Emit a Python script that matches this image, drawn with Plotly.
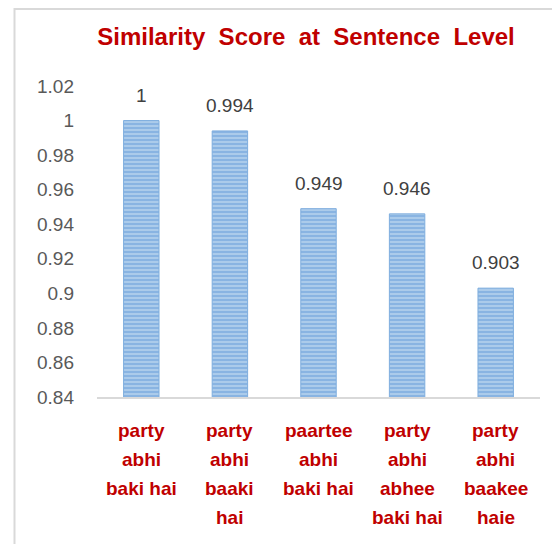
import plotly.graph_objects as go

categories = ["party abhi baki hai", "party abhi baaki hai", "paartee abhi baki hai",
              "party abhi abhee baki hai", "party abhi baakee haie"]
label_lines = [["party", "abhi", "baki hai"],
               ["party", "abhi", "baaki", "hai"],
               ["paartee", "abhi", "baki hai"],
               ["party", "abhi", "abhee", "baki hai"],
               ["party", "abhi", "baakee", "haie"]]
scores = [1, 0.994, 0.949, 0.946, 0.903]
tick_vals = [0.84, 0.86, 0.88, 0.9, 0.92, 0.94, 0.96, 0.98, 1.0, 1.02]
tick_text = ["0.84", "0.86", "0.88", "0.9", "0.92", "0.94", "0.96", "0.98", "1", "1.02"]

W, H = 560, 544
L, R, T, B = 89, 28, 78, 155
pw, ph = W - L - R, H - T - B

fig = go.Figure()
fig.add_trace(go.Bar(
    x=categories, y=scores, width=0.4,
    marker=dict(color="#C2D9F0", line=dict(color="#7FAEDE", width=1),
                pattern=dict(shape="-", fgcolor="#4F8FD3", size=4, solidity=0.7, fillmode="overlay")),
    hoverinfo="skip",
))

annotations = []
for c, v in zip(categories, scores):
    annotations.append(dict(x=c, y=v, xref="x", yref="y", text=f"{v:g}", showarrow=False,
                            yanchor="bottom", yshift=13,
                            font=dict(family="Liberation Sans, Arial", size=19, color="#404040")))
for c, lines in zip(categories, label_lines):
    for i, ln in enumerate(lines):
        annotations.append(dict(x=c, y=0, xref="x", yref="paper", text=ln, showarrow=False,
                                yanchor="middle", yshift=-33 - 29 * i,
                                font=dict(family="Liberation Sans, Arial", size=19, color="#C00000",
                                          weight="bold")))

def px_x(px):
    return (px - L) / pw

def px_y(py):
    return (H - B - py) / ph

fig.update_layout(
    width=W, height=H,
    margin=dict(l=L, r=R, t=T, b=B),
    paper_bgcolor="white", plot_bgcolor="white",
    showlegend=False,
    title=dict(text="<b>Similarity  Score  at  Sentence  Level</b>", x=298 / W, xanchor="center",
               y=1 - 29 / H, yanchor="middle",
               font=dict(family="Liberation Sans, Arial", size=24, color="#C00000")),
    xaxis=dict(showticklabels=False, showline=True, linecolor="#D9D9D9", linewidth=2,
               showgrid=False, zeroline=False, ticks=""),
    yaxis=dict(range=[0.84, 1.02], tickvals=tick_vals, ticktext=tick_text, showgrid=False,
               zeroline=False, showline=False, ticklabelstandoff=22,
               tickfont=dict(family="Liberation Sans, Arial", size=19, color="#595959")),
    annotations=annotations,
    shapes=[
        dict(type="line", xref="paper", yref="paper", x0=px_x(6), x1=px_x(560), y0=px_y(1), y1=px_y(1),
             line=dict(color="#D9D9D9", width=2)),
        dict(type="line", xref="paper", yref="paper", x0=px_x(6.5), x1=px_x(6.5), y0=px_y(0), y1=px_y(544),
             line=dict(color="#D9D9D9", width=2)),
    ],
)
fig.write_html("out.html")
